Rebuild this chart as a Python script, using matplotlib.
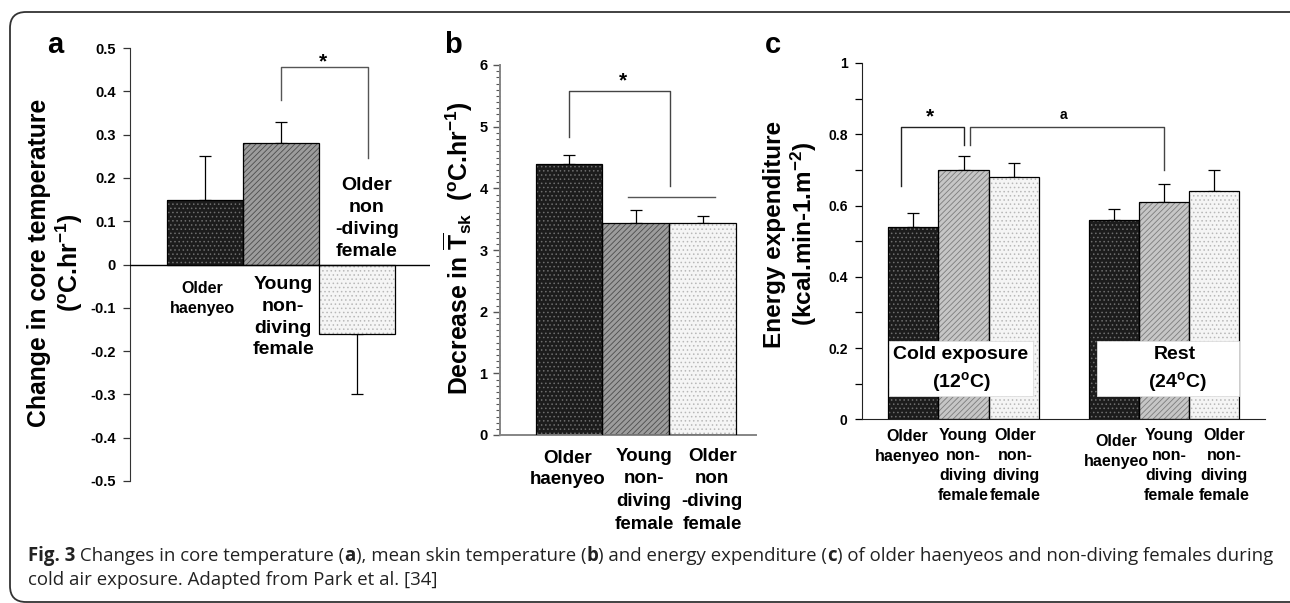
import matplotlib
matplotlib.use('Agg')
import matplotlib.pyplot as plt
import matplotlib.transforms as mtransforms
from matplotlib.patches import FancyBboxPatch, Rectangle
import numpy as np

plt.rcParams['font.family'] = ['Liberation Sans', 'DejaVu Sans']
plt.rcParams['font.weight'] = 'bold'
plt.rcParams['mathtext.fontset'] = 'custom'
plt.rcParams['mathtext.rm'] = 'Liberation Sans:bold'
plt.rcParams['mathtext.bf'] = 'Liberation Sans:bold'
plt.rcParams['mathtext.it'] = 'Liberation Sans:bold'
plt.rcParams['hatch.linewidth'] = 0.6

# ---- data ----
group_labels = ['Older\nhaenyeo', 'Young\nnon-\ndiving\nfemale', 'Older\nnon\n-diving\nfemale']
group_labels_c = ['Older\nhaenyeo', 'Young\nnon-\ndiving\nfemale', 'Older\nnon-\ndiving\nfemale']

core_change = [0.15, 0.28, -0.16]
core_err = [0.10, 0.05, 0.14]
core_ticks = [-0.5, -0.4, -0.3, -0.2, -0.1, 0, 0.1, 0.2, 0.3, 0.4, 0.5]
core_ticklabels = ['-0.5', '-0.4', '-0.3', '-0.2', '-0.1', '0', '0.1', '0.2', '0.3', '0.4', '0.5']

skin_decrease = [4.40, 3.43, 3.43]
skin_err = [0.14, 0.22, 0.12]

ee_cold = [0.54, 0.70, 0.68]
ee_cold_err = [0.04, 0.04, 0.04]
ee_rest = [0.56, 0.61, 0.64]
ee_rest_err = [0.03, 0.05, 0.06]
ee_ticks = [0, 0.2, 0.4, 0.6, 0.8, 1.0]
ee_ticklabels = ['0', '0.2', '0.4', '0.6', '0.8', '1']

W, H = 1290, 603
fig = plt.figure(figsize=(W / 100, H / 100), dpi=100)

style_ab = [dict(face='#1c1c1c', hatch='....', hc='#6e6e6e'),
            dict(face='#9c9c9c', hatch='//////', hc='#4c4c4c'),
            dict(face='#f5f5f5', hatch='....', hc='#b8b8b8')]
style_c = [dict(face='#1c1c1c', hatch='....', hc='#6e6e6e'),
           dict(face='#c6c6c6', hatch='//////', hc='#7c7c7c'),
           dict(face='#f5f5f5', hatch='....', hc='#b8b8b8')]


def draw_bars(ax, xs, vals, errs, styles):
    for xi, v, s in zip(xs, vals, styles):
        ax.bar(xi, v, width=1.0, color=s['face'], linewidth=0, zorder=2)
        ax.bar(xi, v, width=1.0, color='none', hatch=s['hatch'], edgecolor=s['hc'], linewidth=0, zorder=2)
        ax.bar(xi, v, width=1.0, color='none', edgecolor='black', linewidth=0.9, zorder=3)
    vals = np.array(vals)
    errs = np.array(errs)
    lower = np.where(vals < 0, errs, 0)
    upper = np.where(vals >= 0, errs, 0)
    ax.errorbar(xs, vals, yerr=[lower, upper], fmt='none', ecolor='black',
                elinewidth=0.9, capsize=4, capthick=0.9, zorder=1)


def px_axes(x0, x1, ytop, ybot):
    return fig.add_axes([x0 / W, 1 - ybot / H, (x1 - x0) / W, (ybot - ytop) / H])


# ---------------- panel a ----------------
ax_a = px_axes(130, 430, 48, 481)
draw_bars(ax_a, [0, 1, 2], core_change, core_err, style_ab)
ax_a.set_xlim(-75 / 76, 225 / 76)
ax_a.set_ylim(-0.5, 0.5)
for sp in ['top', 'right', 'bottom']:
    ax_a.spines[sp].set_visible(False)
ax_a.spines['left'].set_color('#333333')
ax_a.axhline(0, color='black', lw=1, zorder=4)
ax_a.set_xticks([])
ax_a.set_yticks(core_ticks)
ax_a.set_yticklabels(core_ticklabels)
ax_a.tick_params(axis='y', length=5, width=0.9, labelsize=10.5, pad=5, color='#333333')
ax_a.patch.set_visible(False)
ax_a.plot([1, 1, 2.14, 2.14], [0.38, 0.455, 0.455, 0.245], color='#555555', lw=1)
ax_a.text(1.55, 0.468, '*', ha='center', va='center', fontsize=15)
ax_a.text(-0.03, -0.078, group_labels[0], ha='center', va='center', fontsize=11.5, linespacing=1.42)
ax_a.text(1.03, -0.122, group_labels[1], ha='center', va='center', fontsize=14, linespacing=1.36)
ax_a.text(2.13, 0.106, group_labels[2], ha='center', va='center', fontsize=14, linespacing=1.38)

fig.text(56 / W, 1 - 263 / H,
         'Change in core temperature\n' + r'(${}^{\mathrm{o}}$C.hr$^{\mathrm{-1}}$)',
         rotation=90, ha='center', va='center', fontsize=17.8, linespacing=1.12)
fig.text(55 / W, 1 - 45 / H, 'a', ha='center', va='center', fontsize=21)

# ---------------- panel b ----------------
bx0 = 569.0
bu = 66.9
ax_b = px_axes(500, 756, 65, 435)
draw_bars(ax_b, [0, 1, 2], skin_decrease, skin_err, style_ab)
ax_b.set_xlim((500 - bx0) / bu, (756 - bx0) / bu)
ax_b.set_ylim(0, 6)
for sp in ['top', 'right']:
    ax_b.spines[sp].set_visible(False)
for sp in ['left', 'bottom']:
    ax_b.spines[sp].set_color('#858585')
    ax_b.spines[sp].set_linewidth(1.4)
ax_b.set_xticks([])
ax_b.set_yticks(range(7))
ax_b.set_yticks(np.arange(0, 6.01, 0.1), minor=True)
ax_b.tick_params(axis='y', which='major', length=5, width=1, labelsize=10.5, pad=4, color='#555555')
ax_b.tick_params(axis='y', which='minor', length=3, width=0.8, color='#555555')
ax_b.patch.set_visible(False)
ax_b.plot([0, 0, 1.51, 1.51], [4.84, 5.58, 5.58, 4.03], color='#444444', lw=1)
ax_b.plot([0.876, 2.18], [3.86, 3.86], color='#555555', lw=1)
ax_b.text(0.81, 5.74, '*', ha='center', va='center', fontsize=15)
xa_b = ax_b.get_xaxis_transform()
ax_b.text(-0.02, -0.092, group_labels[0], transform=xa_b, ha='center', va='center', fontsize=13.5, linespacing=1.37)
ax_b.text(1.12, -0.149, group_labels[1], transform=xa_b, ha='center', va='center', fontsize=13.5, linespacing=1.44)
ax_b.text(2.14, -0.149, group_labels[2], transform=xa_b, ha='center', va='center', fontsize=13.5, linespacing=1.44)

fig.text(458 / W, 1 - 248 / H,
         r'Decrease in $\overline{\mathrm{T}}_{\mathrm{sk}}$  (${}^{\mathrm{o}}$C.hr$^{\mathrm{-1}}$)',
         rotation=90, ha='center', va='center', fontsize=17.8)
fig.text(453 / W, 1 - 45 / H, 'b', ha='center', va='center', fontsize=21)

# ---------------- panel c ----------------
cx0 = 913.4
cu = 50.1
ax_c = px_axes(861.6, 1265, 63, 419.4)
draw_bars(ax_c, [0, 1, 2], ee_cold, ee_cold_err, style_c)
draw_bars(ax_c, [4, 5, 6], ee_rest, ee_rest_err, style_c)
ax_c.set_xlim((861.6 - cx0) / cu, (1265 - cx0) / cu)
ax_c.set_ylim(0, 1)
for sp in ['top', 'right']:
    ax_c.spines[sp].set_visible(False)
ax_c.spines['left'].set_color('#222222')
ax_c.spines['bottom'].set_color('#222222')
ax_c.set_xticks([])
ax_c.set_yticks(ee_ticks)
ax_c.set_yticklabels(ee_ticklabels)
ax_c.set_yticks(np.arange(0, 1.01, 0.1), minor=True)
ax_c.tick_params(axis='y', which='major', length=5, width=0.9, labelsize=10, pad=5)
ax_c.tick_params(axis='y', which='minor', length=5, width=0.9)
ax_c.patch.set_visible(False)
ax_c.plot([-0.24, -0.24, 1.0, 1.0], [0.655, 0.82, 0.82, 0.77], color='#222222', lw=1)
ax_c.plot([1.12, 1.12, 5.0, 5.0], [0.77, 0.82, 0.82, 0.70], color='#444444', lw=1)
ax_c.text(0.34, 0.848, '*', ha='center', va='center', fontsize=15)
ax_c.text(3.0, 0.853, 'a', ha='center', va='center', fontsize=10)

for rx0, rx1 in [(0.0667, 0.4256), (0.5846, 0.9359)]:
    ax_c.add_patch(Rectangle((rx0, 0.0667), rx1 - rx0, 0.2203 - 0.0667, transform=ax_c.transAxes,
                             facecolor='white', edgecolor='#dddddd', lw=0.6, zorder=5))
ax_c.text(0.246, 0.183, 'Cold exposure', transform=ax_c.transAxes, ha='center', va='center', fontsize=14, zorder=6)
ax_c.text(0.248, 0.104, r'(12${}^{\mathrm{o}}$C)', transform=ax_c.transAxes, ha='center', va='center', fontsize=14, zorder=6)
ax_c.text(0.777, 0.183, 'Rest', transform=ax_c.transAxes, ha='center', va='center', fontsize=14, zorder=6)
ax_c.text(0.782, 0.104, r'(24${}^{\mathrm{o}}$C)', transform=ax_c.transAxes, ha='center', va='center', fontsize=14, zorder=6)

xa_c = ax_c.get_xaxis_transform()
label_pos_c = [(-0.12, -0.075), (1.0, -0.130), (2.04, -0.130), (4.05, -0.090), (5.1, -0.129), (6.2, -0.129)]
for (lx, ly), lab in zip(label_pos_c, group_labels_c + group_labels_c):
    ax_c.text(lx, ly, lab, transform=xa_c, ha='center', va='center', fontsize=11.5,
              linespacing=1.43)

fig.text(791 / W, 1 - 234 / H,
         'Energy expenditure\n' + r'(kcal.min-1.m$^{\mathrm{-2}}$)',
         rotation=90, ha='center', va='center', fontsize=17.5, linespacing=1.12)
fig.text(773 / W, 1 - 45 / H, 'c', ha='center', va='center', fontsize=21)

# ---------------- frame ----------------
ident = mtransforms.IdentityTransform()
frame = FancyBboxPatch((10, 1), 1300, 590, boxstyle='round,pad=0,rounding_size=16',
                       transform=ident, facecolor='none', edgecolor='#333333', lw=1.3)
fig.patches.append(frame)
frame.set_figure(fig)

# ---------------- caption ----------------
cap_font = 'Open Sans'
renderer = fig.canvas.get_renderer()
line1 = [('Fig. 3', 'bold'), (' Changes in core temperature (', 'normal'), ('a', 'bold'),
         ('), mean skin temperature (', 'normal'), ('b', 'bold'),
         (') and energy expenditure (', 'normal'), ('c', 'bold'),
         (') of older haenyeos and non-diving females during', 'normal')]
line2 = [('cold air exposure. Adapted from Park et al. [34]', 'normal')]


def put_line(pieces, x0, ybase, size):
    x = x0
    arts = []
    for txt, wt in pieces:
        t = fig.text(x / W, ybase / H, txt, fontsize=size, fontweight=wt, family=cap_font,
                     color='#222222', ha='left', va='baseline')
        bb = t.get_window_extent(renderer)
        x += bb.width
        arts.append(t)
    return x - x0, arts


width, arts = put_line(line1, 28, H - 561, 12)
for a in arts:
    a.remove()
size = 12 * 1242 / width
put_line(line1, 28, H - 561, size)
put_line(line2, 28, H - 585, size)

fig.savefig('out.png', dpi=100)
